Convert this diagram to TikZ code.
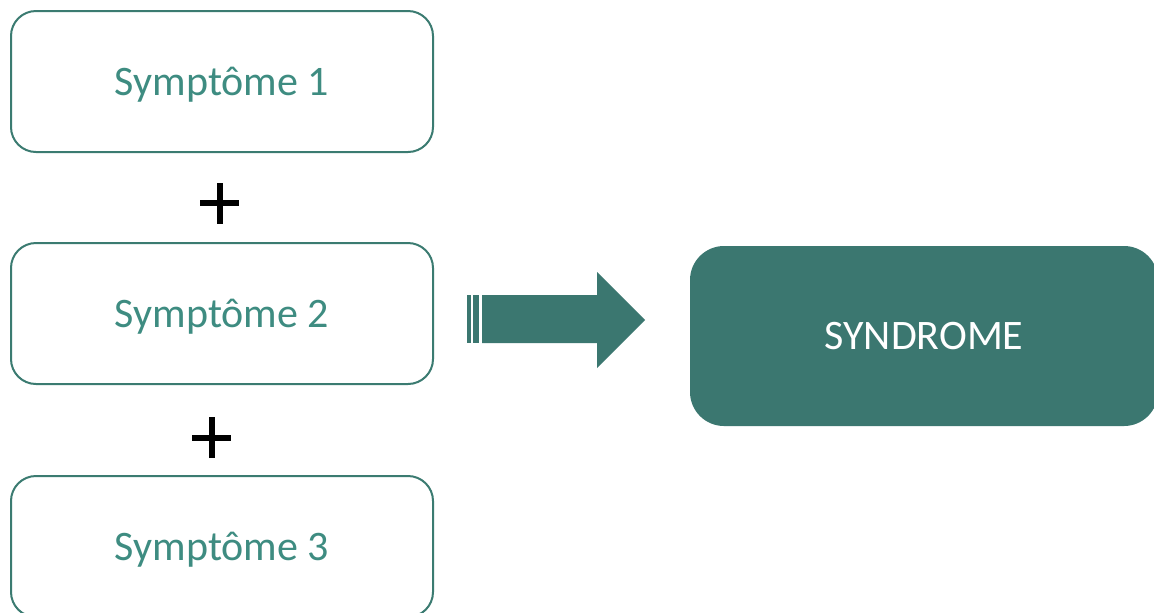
\documentclass[tikz,border=0pt]{standalone}
\usepackage{fontspec}
\setmainfont{Carlito}
\definecolor{tealline}{HTML}{3B7B71}
\definecolor{tealtext}{HTML}{3E8C81}
\definecolor{tealfill}{HTML}{3B7770}
\tikzset{
  symbox/.style={draw=tealline, line width=1pt, fill=white, rounded corners=12.5pt,
    minimum width=211pt, minimum height=70.5pt, inner sep=0pt,
    text height=18pt, text depth=4.5pt,
    text=tealtext, font=\fontsize{21}{25}\selectfont},
  synbox/.style={fill=tealfill, rounded corners=17pt,
    minimum width=234pt, minimum height=90pt, inner sep=0pt,
    text height=18pt, text depth=5pt,
    text=white, font=\fontsize{21}{25}\selectfont},
  plusmark/.style={line width=3pt, black},
  bigarrow/.style={fill=tealfill, draw=none}
}
\begin{document}
\begin{tikzpicture}[x=0.5pt, y=-0.5pt]
  \useasboundingbox (0,0) rectangle (1154,612);
  \clip (0,0) rectangle (1154,612);
  \fill[white] (0,0) rectangle (1154,612);

  % symptom boxes
  \node[symbox] (s1) at (222,81.5) {Symptôme 1};
  \node[symbox] (s2) at (222,313.5) {Symptôme 2};
  \node[symbox] (s3) at (222,546.5) {Symptôme 3};

  % result box
  \node[synbox] (syn) at (924,336) {SYNDROME};

  % plus signs between the boxes
  \coordinate (p1) at (219.5,203);
  \coordinate (p2) at (211.5,437.5);
  \draw[plusmark] ([xshift=-19.5*0.5pt]p1) -- ([xshift=19.5*0.5pt]p1)
                  ([yshift=-20.5*0.5pt]p1) -- ([yshift=20.5*0.5pt]p1);
  \draw[plusmark] ([xshift=-19.5*0.5pt]p2) -- ([xshift=19.5*0.5pt]p2)
                  ([yshift=-20.5*0.5pt]p2) -- ([yshift=20.5*0.5pt]p2);

  % striped block arrow
  \fill[bigarrow] (467,295) rectangle (471,343);
  \fill[bigarrow] (473,295) rectangle (479,343);
  \fill[bigarrow] (482,295) -- (597,295) -- (597,272) -- (645,320)
                  -- (597,368) -- (597,343) -- (482,343) -- cycle;
\end{tikzpicture}
\end{document}
